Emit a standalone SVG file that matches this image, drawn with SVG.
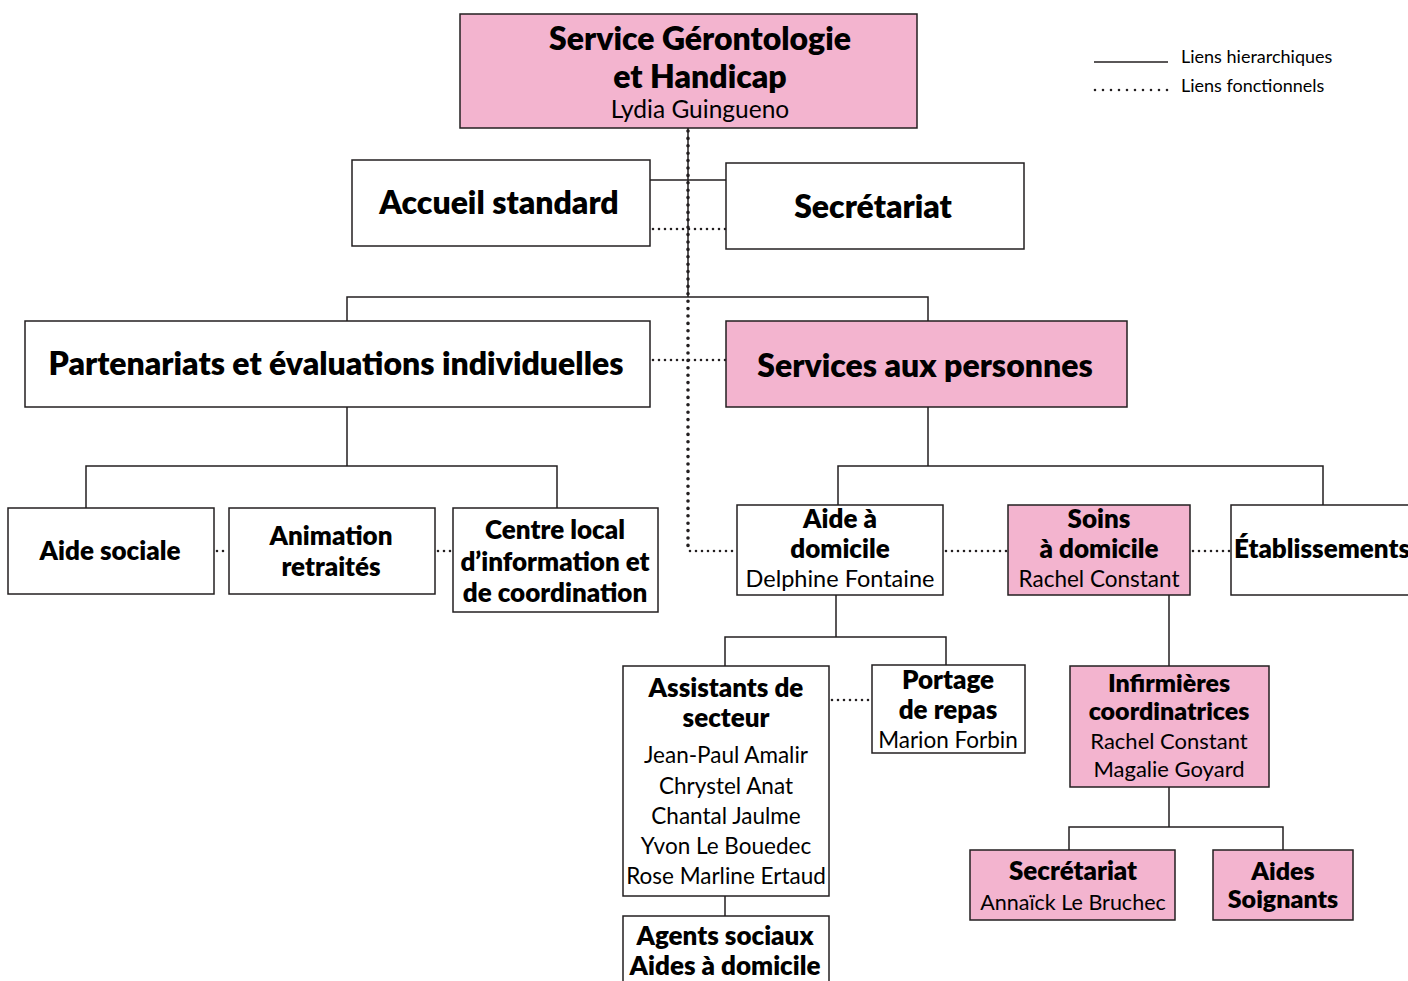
<svg xmlns="http://www.w3.org/2000/svg" width="1408" height="981" viewBox="0 0 1408 981">
<style>
.box{fill:#fff;stroke:#231f20;stroke-width:1.5}
.pink{fill:#f3b4cf;stroke:#231f20;stroke-width:1.5}
.h{fill:none;stroke:#231f20;stroke-width:1.5}
.d{fill:none;stroke:#231f20;stroke-width:2.6;stroke-dasharray:0 6;stroke-linecap:round}
.dv{fill:none;stroke:#231f20;stroke-width:3.6;stroke-dasharray:0 7.4;stroke-linecap:round}
text{font-family:Lato,"Open Sans",sans-serif;fill:#000;text-anchor:middle}
.b{font-weight:800;font-size:26px}
.bl{font-weight:800;font-size:32px}
.r{font-size:22.5px}
.lg{font-size:18px;text-anchor:start}
</style>
<rect width="1408" height="981" fill="#fff"/>
<g id="connectors">
<path class="h" d="M688 128V297M650 180H726M347 321V297H928V321M347 407V466M86 508V466H557V508M928 407V466M838 505V466H1323V505M836 595V637M725 666V637H946V665M725 896V916M1169 595V666M1169 787V827M1069 850V827H1283V850"/>
<path class="dv" d="M688 131V550"/>
<path class="d" d="M653 229H726M653 360H726M217 551H229M438 551H453M690 551H737M946 551H1008M1193 551H1231M832 700H872"/>
</g>
<g id="legend">
<line class="h" x1="1094" y1="62" x2="1168" y2="62" style="stroke-width:1.3"/>
<path class="d" d="M1095 90H1168" style="stroke-width:2.6;stroke-dasharray:0 8"/>
<text class="lg" x="1181" y="63">Liens hierarchiques</text>
<text class="lg" x="1181" y="92">Liens fonctionnels</text>
</g>
<g id="n-service">
<rect class="pink" x="460" y="14" width="457" height="114"/>
<text class="bl" x="700" y="50">Service Gérontologie</text>
<text class="bl" x="700" y="88">et Handicap</text>
<text class="r" x="700" y="118" style="font-size:24.5px">Lydia Guingueno</text>
</g>
<g id="n-accueil">
<rect class="box" x="352" y="160" width="298" height="86"/>
<text class="bl" x="499" y="214">Accueil standard</text>
</g>
<g id="n-secretariat">
<rect class="box" x="726" y="163" width="298" height="86"/>
<text class="bl" x="873" y="218">Secrétariat</text>
</g>
<g id="n-partenariats">
<rect class="box" x="25" y="321" width="625" height="86"/>
<text class="bl" x="336" y="375">Partenariats et évaluations individuelles</text>
</g>
<g id="n-services">
<rect class="pink" x="726" y="321" width="401" height="86"/>
<text class="bl" x="925" y="377">Services aux personnes</text>
</g>
<g id="n-aidesociale">
<rect class="box" x="8" y="508" width="206" height="86"/>
<text class="b" x="110" y="560">Aide sociale</text>
</g>
<g id="n-animation">
<rect class="box" x="229" y="508" width="206" height="86"/>
<text class="b" x="331" y="545">Animation</text>
<text class="b" x="331" y="576">retraités</text>
</g>
<g id="n-centre">
<rect class="box" x="453" y="508" width="205" height="104"/>
<text class="b" x="555" y="539">Centre local</text>
<text class="b" x="555" y="571">d’information et</text>
<text class="b" x="555" y="602">de coordination</text>
</g>
<g id="n-aidedomicile">
<rect class="box" x="737" y="505" width="206" height="90"/>
<text class="b" x="840" y="528">Aide à</text>
<text class="b" x="840" y="558">domicile</text>
<text class="r" x="840" y="587" style="font-size:23.5px">Delphine Fontaine</text>
</g>
<g id="n-soins">
<rect class="pink" x="1008" y="505" width="182" height="90"/>
<text class="b" x="1099" y="528">Soins</text>
<text class="b" x="1099" y="558">à domicile</text>
<text class="r" x="1099" y="587">Rachel Constant</text>
</g>
<g id="n-etablissements">
<rect class="box" x="1231" y="505" width="190" height="90"/>
<text class="b" x="1322" y="558">Établissements</text>
</g>
<g id="n-assistants">
<rect class="box" x="623" y="666" width="206" height="230"/>
<text class="b" x="726" y="697">Assistants de</text>
<text class="b" x="726" y="727">secteur</text>
<text class="r" x="726" y="763">Jean-Paul Amalir</text>
<text class="r" x="726" y="794">Chrystel Anat</text>
<text class="r" x="726" y="824">Chantal Jaulme</text>
<text class="r" x="726" y="854">Yvon Le Bouedec</text>
<text class="r" x="726" y="884">Rose Marline Ertaud</text>
</g>
<g id="n-portage">
<rect class="box" x="872" y="665" width="153" height="88"/>
<text class="b" x="948" y="689">Portage</text>
<text class="b" x="948" y="719">de repas</text>
<text class="r" x="948" y="748">Marion Forbin</text>
</g>
<g id="n-agents">
<rect class="box" x="623" y="916" width="206" height="80"/>
<text class="b" x="725" y="945">Agents sociaux</text>
<text class="b" x="725" y="975">Aides à domicile</text>
</g>
<g id="n-infirmieres">
<rect class="pink" x="1070" y="666" width="199" height="121"/>
<text class="b" x="1169" y="692" style="font-size:25px">Infirmières</text>
<text class="b" x="1169" y="720" style="font-size:25px">coordinatrices</text>
<text class="r" x="1169" y="749" style="font-size:22px">Rachel Constant</text>
<text class="r" x="1169" y="777" style="font-size:22px">Magalie Goyard</text>
</g>
<g id="n-secretariat2">
<rect class="pink" x="970" y="850" width="205" height="70"/>
<text class="b" x="1073" y="880">Secrétariat</text>
<text class="r" x="1073" y="910" style="font-size:21.5px">Annaïck Le Bruchec</text>
</g>
<g id="n-aidessoignants">
<rect class="pink" x="1213" y="850" width="140" height="70"/>
<text class="b" x="1283" y="880" style="font-size:25px">Aides</text>
<text class="b" x="1283" y="908" style="font-size:25px">Soignants</text>
</g>
</svg>
